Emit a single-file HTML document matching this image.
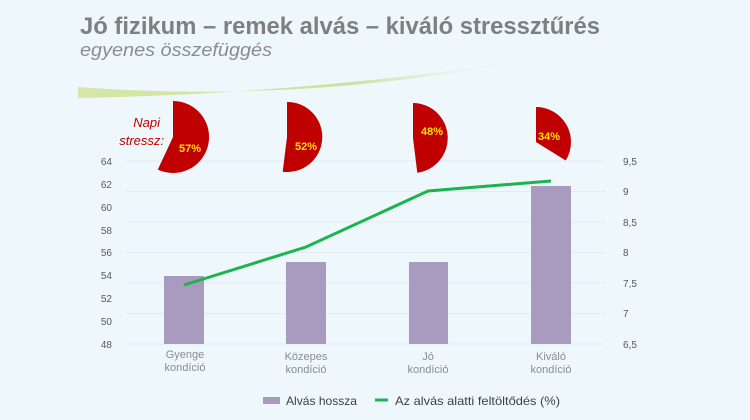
<!DOCTYPE html>
<html><head><meta charset="utf-8"><style>
body{margin:0;background:#eef7fc;}
svg{display:block;font-family:"Liberation Sans",sans-serif;}
</style></head><body>
<svg width="750" height="420" viewBox="0 0 750 420">
<defs>
<linearGradient id="sw" x1="0" x2="1" y1="0" y2="0">
<stop offset="0" stop-color="#d6e7a6"/><stop offset="0.6" stop-color="#c9e29a"/><stop offset="1" stop-color="#eef7fc" stop-opacity="0"/>
</linearGradient>
</defs>
<rect width="750" height="420" fill="#eef7fc"/>
<text x="80" y="34" font-size="24" font-weight="bold" fill="#7f7f7f" textLength="520" lengthAdjust="spacingAndGlyphs">Jó fizikum – remek alvás – kiváló stressztűrés</text>
<text x="80" y="56" font-size="18" font-style="italic" fill="#8c8c8c" textLength="192" lengthAdjust="spacingAndGlyphs">egyenes összefüggés</text>
<path d="M78 87 Q300 104 530 60 Q300 94 78 98 Z" fill="url(#sw)"/>
<g stroke="#e2ebf2" stroke-width="1">
<line x1="125" x2="605" y1="161" y2="161"/><line x1="125" x2="605" y1="191.5" y2="191.5"/>
<line x1="125" x2="605" y1="222" y2="222"/><line x1="125" x2="605" y1="252.5" y2="252.5"/>
<line x1="125" x2="605" y1="283" y2="283"/><line x1="125" x2="605" y1="313.5" y2="313.5"/>
<line x1="125" x2="605" y1="344" y2="344"/>
</g>
<g font-size="10" fill="#595959" text-anchor="end">
<text x="112" y="165">64</text><text x="112" y="188">62</text><text x="112" y="211">60</text><text x="112" y="234">58</text><text x="112" y="256">56</text><text x="112" y="279">54</text><text x="112" y="302">52</text><text x="112" y="325">50</text><text x="112" y="348">48</text>
</g>
<g font-size="10" fill="#595959">
<text x="623" y="165">9,5</text><text x="623" y="195">9</text><text x="623" y="226">8,5</text><text x="623" y="256">8</text><text x="623" y="287">7,5</text><text x="623" y="317">7</text><text x="623" y="348">6,5</text>
</g>
<g fill="#a89bbf">
<rect x="164" y="276" width="40" height="68"/>
<rect x="286" y="262" width="40" height="82"/>
<rect x="409" y="262" width="39" height="82"/>
<rect x="531" y="186" width="40" height="158"/>
</g>
<polyline points="184,285 306,247 428,191 551,181" fill="none" stroke="#1db34f" stroke-width="3"/>
<g font-size="11" fill="#8c8c8c" text-anchor="middle">
<text x="185" y="358">Gyenge</text><text x="185" y="371">kondíció</text>
<text x="306" y="360">Közepes</text><text x="306" y="373">kondíció</text>
<text x="428" y="360">Jó</text><text x="428" y="373">kondíció</text>
<text x="551" y="360">Kiváló</text><text x="551" y="373">kondíció</text>
</g>
<g fill="#c00000">
<path d="M173 137 L173 101 A36 36 0 1 1 157.8 169.6 Z"/>
<path d="M287 137 L287 102 A35 35 0 1 1 282.7 171.7 Z"/>
<path d="M413 138 L413 103 A35 35 0 0 1 417.3 172.7 Z"/>
<path d="M536 142 L536 107 A35 35 0 0 1 565.7 160.5 Z"/>
</g>
<g font-size="11" font-weight="bold" fill="#ffe000" text-anchor="middle">
<text x="190" y="152">57%</text><text x="306" y="150">52%</text><text x="432" y="135">48%</text><text x="549" y="140">34%</text>
</g>
<g font-size="13" font-style="italic" fill="#c00000" text-anchor="end">
<text x="160" y="127">Napi</text><text x="164" y="145">stressz:</text>
</g>
<rect x="263" y="397" width="17" height="7" fill="#a89bbf"/>
<text x="286" y="405" font-size="12" fill="#404040" textLength="71" lengthAdjust="spacingAndGlyphs">Alvás hossza</text>
<line x1="375" x2="388" y1="400" y2="400" stroke="#1db34f" stroke-width="3"/>
<text x="395" y="405" font-size="12" fill="#404040" textLength="165" lengthAdjust="spacingAndGlyphs">Az alvás alatti feltöltődés (%)</text>
</svg>
</body></html>
